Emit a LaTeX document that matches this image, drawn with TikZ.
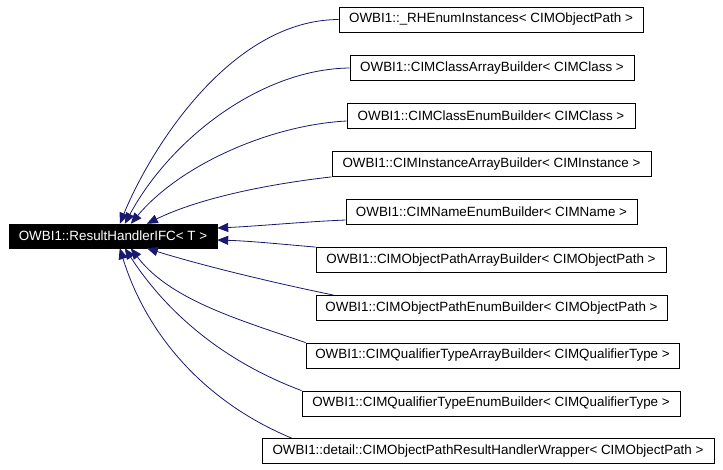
\documentclass[tikz,border=0pt]{standalone}
\usepackage{fontspec}
\setmainfont{Liberation Sans}
\usetikzlibrary{arrows.meta}
\definecolor{edgeblue}{HTML}{191970}
\tikzset{
  cls/.style={draw=black, line width=0.8pt, fill=white, inner sep=0pt, minimum height=25pt,
    font=\fontsize{13.4}{15}\selectfont, anchor=center},
  mainbox/.style={draw=black, fill=black, text=white, inner sep=0pt, minimum width=208pt,
    minimum height=24pt, font=\fontsize{13.4}{15}\selectfont},
  inh/.style={draw=edgeblue, line width=0.8pt, -{Triangle[length=11pt,width=9pt]}, fill=none},
}
\begin{document}
\begin{tikzpicture}[x=1pt,y=-1pt]
\useasboundingbox (0,0) rectangle (723,469);
\node[mainbox] (main) at (113,236) {OWBI1::ResultHandlerIFC< T >};
\node[cls, minimum width=304pt] (b1) at (491,19.5) {OWBI1::\_RHEnumInstances< CIMObjectPath >};
\node[cls, minimum width=284pt] (b2) at (492,68) {OWBI1::CIMClassArrayBuilder< CIMClass >};
\node[cls, minimum width=288pt] (b3) at (491,116) {OWBI1::CIMClassEnumBuilder< CIMClass >};
\node[cls, minimum width=319pt] (b4) at (491.5,164) {OWBI1::CIMInstanceArrayBuilder< CIMInstance >};
\node[cls, minimum width=291pt] (b5) at (491.5,212) {OWBI1::CIMNameEnumBuilder< CIMName >};
\node[cls, minimum width=350pt] (b6) at (491,260) {OWBI1::CIMObjectPathArrayBuilder< CIMObjectPath >};
\node[cls, minimum width=351pt] (b7) at (491.5,308) {OWBI1::CIMObjectPathEnumBuilder< CIMObjectPath >};
\node[cls, minimum width=373pt] (b8) at (492.5,355.5) {OWBI1::CIMQualifierTypeArrayBuilder< CIMQualifierType >};
\node[cls, minimum width=378pt] (b9) at (491,403.5) {OWBI1::CIMQualifierTypeEnumBuilder< CIMQualifierType >};
\node[cls, minimum width=452pt] (b10) at (488,451) {OWBI1::detail::CIMObjectPathResultHandlerWrapper< CIMObjectPath >};

\draw[inh] (b1.west) .. controls (230,20) and (150,150) .. ([xshift=111pt]main.north west);
\draw[inh] (b2.west) .. controls (260,69) and (170,140) .. ([xshift=116pt]main.north west);
\draw[inh] ([yshift=-5pt]b3.west) .. controls (270,125) and (180,165) .. ([xshift=122pt]main.north west);
\draw[inh] (b4.south west) .. controls (260,185) and (195,200) .. ([xshift=138pt]main.north west);
\draw[inh] ([yshift=-8pt]b5.west) .. controls (300,222) and (260,226) .. ([yshift=8pt]main.east);
\draw[inh] (b6.north west) .. controls (280,244) and (250,241) .. ([yshift=-4pt]main.east);
\draw[inh] ([xshift=18pt]b7.north west) .. controls (260,280) and (190,262) .. ([xshift=138pt]main.south west);
\draw[inh] (b8.north west) .. controls (240,320) and (170,300) .. ([xshift=122pt]main.south west);
\draw[inh] (b9.north west) .. controls (220,360) and (165,310) .. ([xshift=116pt]main.south west);
\draw[inh] ([xshift=30pt]b10.north west) .. controls (200,400) and (145,330) .. ([xshift=111pt]main.south west);
\end{tikzpicture}
\end{document}
